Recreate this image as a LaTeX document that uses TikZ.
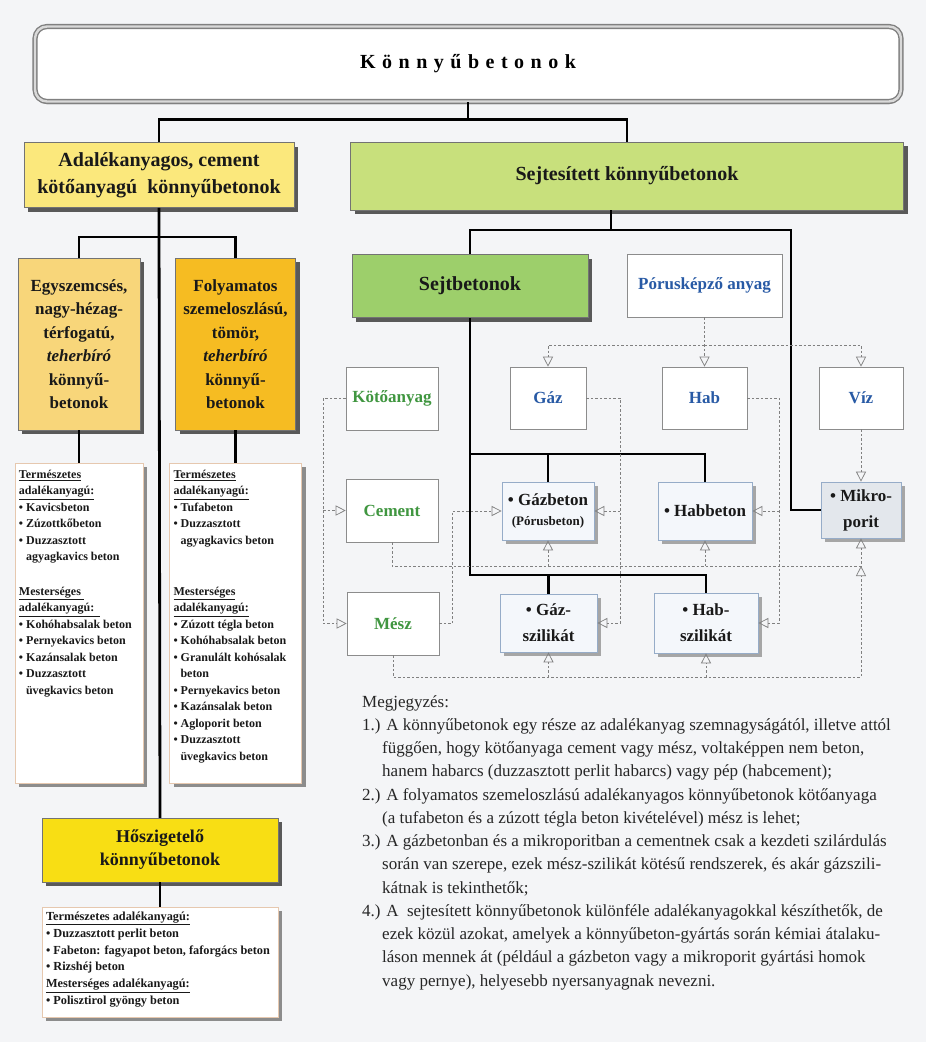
\documentclass[tikz,border=0pt]{standalone}
\usepackage{fontspec}
\setmainfont{Liberation Serif}
\usetikzlibrary{arrows.meta, positioning, shadows}
\definecolor{hatter}{RGB}{244,245,247}
\definecolor{sarga}{RGB}{251,232,124}
\definecolor{zold}{RGB}{200,224,124}
\definecolor{narancs}{RGB}{248,214,122}
\definecolor{borostyan}{RGB}{246,188,34}
\definecolor{sotetzold}{RGB}{157,207,107}
\definecolor{citrom}{RGB}{248,222,20}
\definecolor{kek}{RGB}{40,90,165}
\definecolor{fuzold}{RGB}{64,150,64}
\definecolor{acel}{RGB}{227,231,236}
\definecolor{halvany}{RGB}{244,247,251}
\definecolor{keret}{RGB}{150,172,200}
\definecolor{barack}{RGB}{230,200,175}
\newcommand{\kz}{\hspace{6.5pt}}
\newcommand{\beh}{\hspace*{20pt}}
\newcommand{\lbeh}{\hspace*{7pt}}

\begin{document}
\begin{tikzpicture}[x=1pt, y=-1pt,
			>={Triangle[open, length=10pt, width=10pt]},
			doboz/.style={draw=black!55, line width=0.5pt, align=center, inner sep=2pt, text=black!90},
			szines/.style={doboz, drop shadow={shadow xshift=4pt, shadow yshift=-4pt, fill=black!65, opacity=1}},
			nagybetu/.style={font=\bfseries\fontsize{20}{27}\selectfont},
			kozep/.style={font=\bfseries\fontsize{17}{23.5}\selectfont},
			lista/.style={draw=barack, line width=0.6pt, fill=white, inner sep=0pt, text=black!90,
				font=\bfseries\fontsize{12}{16.5}\selectfont,
				drop shadow={shadow xshift=4pt, shadow yshift=-4pt, fill=black!45, opacity=1}},
			anyag/.style={draw=black!45, line width=0.6pt, fill=white, align=center, font=\bfseries\fontsize{17}{22}\selectfont},
			beton/.style={draw=keret, line width=0.7pt, fill=halvany, align=center, text=black!90,
				font=\bfseries\fontsize{17}{26}\selectfont,
				drop shadow={shadow xshift=4pt, shadow yshift=-4pt, fill=black!35, opacity=1}},
			vonal/.style={line width=2.8pt},
			szagg/.style={draw=black!50, line width=0.7pt, dash pattern=on 2.5pt off 2pt}]
			
			% Sfondo
			\fill[hatter] (0,0) rectangle (926,1042);
			\useasboundingbox (0,0) rectangle (926,1042);
			
			% Titolo
			\node[draw=black!50, double=black!15, double distance=2.4pt, line width=1.4pt, fill=white,
				rounded corners=12pt, minimum width=866pt, minimum height=75pt, nagybetu,
				drop shadow={shadow xshift=0pt, shadow yshift=-2.5pt, fill=black!55, opacity=1}] (cim) at (468,64)
				{K\kz ö\kz n\kz n\kz y\kz ű\kz b\kz e\kz t\kz o\kz n\kz o\kz k};
			
			% --- Ramo sinistro ---
			\node[szines, fill=sarga, minimum width=270pt, minimum height=65pt, nagybetu] (adal) at (159,175)
				{Adalékanyagos, cement\\kötőanyagú\ \ könnyűbetonok};
			\node[szines, fill=narancs, minimum width=122pt, minimum height=172pt, kozep] (egy) at (79,344)
				{Egyszemcsés,\\nagy-hézag-\\térfogatú,\\\textit{teherbíró}\\könnyű-\\betonok};
			\node[szines, fill=borostyan, minimum width=120pt, minimum height=172pt, kozep] (foly) at (235.5,344)
				{Folyamatos\\szemeloszlású,\\tömör,\\\textit{teherbíró}\\könnyű-\\betonok};
			
			\node[lista, minimum width=128pt, minimum height=320pt] (lista1) at (79,623)
				{\parbox[t][306pt][t]{120pt}{\underline{Természetes}\\
					\underline{adalékanyagú:}\\
					• Kavicsbeton\\
					• Zúzottkőbeton\\
					• Duzzasztott\\
					\lbeh agyagkavics beton\\[18pt]
					\underline{Mesterséges\ }\\
					\underline{adalékanyagú:\ \ }\\
					• Kohóhabsalak beton\\
					• Pernyekavics beton\\
					• Kazánsalak beton\\
					• Duzzasztott\\
					\lbeh üvegkavics beton}};
			\node[lista, minimum width=132pt, minimum height=320pt] (lista2) at (235.5,623)
				{\parbox[t][306pt][t]{124pt}{\underline{Természetes}\\
					\underline{adalékanyagú:}\\
					• Tufabeton\\
					• Duzzasztott\\
					\lbeh agyagkavics beton\\[34.5pt]
					\underline{Mesterséges}\\
					\underline{adalékanyagú:}\\
					• Zúzott tégla beton\\
					• Kohóhabsalak beton\\
					• Granulált kohósalak\\
					\lbeh beton\\
					• Pernyekavics beton\\
					• Kazánsalak beton\\
					• Agloporit beton\\
					• Duzzasztott\\
					\lbeh üvegkavics beton}};
			
			\node[szines, fill=citrom, minimum width=236pt, minimum height=64pt, font=\bfseries\fontsize{18}{23}\selectfont] (hosz) at (160,850)
				{Hőszigetelő\\könnyűbetonok};
			\node[lista, minimum width=236pt, minimum height=110pt] (lista3) at (160,962)
				{\parbox[t][100pt][t]{228pt}{\fontsize{12.3}{16.8}\selectfont
					\underline{Természetes adalékanyagú:}\\
					• Duzzasztott perlit beton\\
					• Fabeton: fagyapot beton, faforgács beton\\
					• Rizshéj beton\\
					\underline{Mesterséges adalékanyagú:}\\
					• Polisztirol gyöngy beton}};
			
			% --- Ramo destro ---
			\node[szines, fill=zold, minimum width=553pt, minimum height=68pt, nagybetu] (sejtes) at (627,176)
				{Sejtesített könnyűbetonok};
			\node[szines, fill=sotetzold, minimum width=236pt, minimum height=63pt, nagybetu] (sbet) at (470,286)
				{Sejtbetonok};
			\node[anyag, text=kek, minimum width=155pt, minimum height=63pt] (poro) at (704.5,285.5) {Pórusképző anyag};
			
			% Materie prime
			\node[anyag, text=fuzold, minimum width=92pt, minimum height=63pt] (kot) at (392,398.5) {Kötőanyag};
			\node[anyag, text=kek, minimum width=76pt, minimum height=62pt] (gaz) at (548,398) {Gáz};
			\node[anyag, text=kek, minimum width=85pt, minimum height=62pt] (hab) at (704.5,398) {Hab};
			\node[anyag, text=kek, minimum width=84pt, minimum height=62pt] (viz) at (861,398) {Víz};
			\node[anyag, text=fuzold, minimum width=92pt, minimum height=63pt] (cem) at (392,510.5) {Cement};
			\node[anyag, text=fuzold, minimum width=92pt, minimum height=63pt] (mesz) at (393,623.5) {Mész};
			
			% Prodotti
			\node[beton, minimum width=92pt, minimum height=58pt] (gbet) at (548,511)
				{• Gázbeton\\[-6pt]{\fontsize{13}{16}\selectfont(Pórusbeton)}};
			\node[beton, minimum width=94pt, minimum height=58pt] (hbet) at (705,511) {• Habbeton};
			\node[beton, fill=acel, minimum width=80pt, minimum height=56pt] (mikro) at (861,510) {• Mikro-\\porit};
			\node[beton, minimum width=97pt, minimum height=58pt] (gszil) at (548.5,623) {• Gáz-\\szilikát};
			\node[beton, minimum width=104pt, minimum height=60pt] (hszil) at (706,623) {• Hab-\\szilikát};
			
			% --- Linee principali ---
			\draw[vonal] (cim.south) -- ++(0,17) -| (adal.north);
			\draw[vonal] (cim.south) ++(0,17) -| (sejtes.north);
			
			\coordinate (a1) at (159,237);
			\draw[vonal] (adal.south) -- (hosz.north);
			\draw[vonal] (egy.north) |- (a1) -| (foly.north);
			\draw[vonal] (egy.south) -- (lista1.north);
			\draw[vonal] (foly.south) -- (lista2.north);
			\draw[vonal] (hosz.south) -- (lista3.north);
			
			\coordinate (s1) at (611,230);
			\coordinate (kn) at (791,230);
			\draw[vonal] (s1 |- sejtes.south) -- (s1) -| (sbet.north);
			\draw[vonal] (s1) -- (kn) |- (mikro.west);
			
			\coordinate (b1) at (470,454);
			\coordinate (b2) at (470,575);
			\draw[vonal] (sbet.south) -- (b2) -| (hszil.north);
			\draw[vonal] (b1) -| (hbet.north);
			\draw[vonal] (gbet.north) -- (gbet.north |- b1);
			\draw[vonal] (gszil.north) -- (gszil.north |- b2);
			
			% --- Linee tratteggiate ---
			% Pórusképző anyag
			\coordinate (pp) at (0,345);
			\draw[szagg, ->] (poro.south) -- (hab.north);
			\draw[szagg, ->] (poro.south |- pp) -| (gaz.north);
			\draw[szagg, ->] (poro.south |- pp) -| (viz.north);
			\draw[szagg, ->] (viz.south) -- (mikro.north);
			
			% Kötőanyag
			\coordinate (kk) at (323,0);
			\draw[szagg, ->] (kot.west) -| (kk |- mesz.west) -- (mesz.west);
			\draw[szagg, ->] (kk |- cem.west) -- (cem.west);
			
			% Cement
			\coordinate (cc) at (0,566);
			\draw[szagg, ->] (cem.south) |- (mikro.south |- cc) -- (mikro.south);
			\draw[szagg, ->] (gbet.south |- cc) -- (gbet.south);
			\draw[szagg, ->] (hbet.south |- cc) -- (hbet.south);
			
			% Mész
			\coordinate (mm) at (0,677);
			\draw[szagg, ->] (mesz.south) |- (mikro.south |- mm) -- (mikro.south |- cc);
			\draw[szagg, ->] (gszil.south |- mm) -- (gszil.south);
			\draw[szagg, ->] (hszil.south |- mm) -- (hszil.south);
			\draw[szagg, ->] (mesz.east) -- ++(13,0) |- (gbet.west);
			
			% Gáz, Hab
			\coordinate (gg) at (620,0);
			\draw[szagg, ->] (gaz.east) -| (gg |- gszil.east) -- (gszil.east);
			\draw[szagg, ->] (gg |- gbet.east) -- (gbet.east);
			\coordinate (hh) at (779,0);
			\draw[szagg, ->] (hab.east) -| (hh |- hszil.east) -- (hszil.east);
			\draw[szagg, ->] (hh |- hbet.east) -- (hbet.east);
			
			% Megjegyzés
			\node[anchor=north west, align=left, inner sep=0pt, text=black!85,
				font=\fontsize{17}{23.25}\selectfont] (megj) at (362,695)
				{Megjegyzés:\\
				1.) A könnyűbetonok egy része az adalékanyag szemnagyságától, illetve attól\\
				\beh függően, hogy kötőanyaga cement vagy mész, voltaképpen nem beton,\\
				\beh hanem habarcs (duzzasztott perlit habarcs) vagy pép (habcement);\\
				2.) A folyamatos szemeloszlású adalékanyagos könnyűbetonok kötőanyaga\\
				\beh (a tufabeton és a zúzott tégla beton kivételével) mész is lehet;\\
				3.) A gázbetonban és a mikroporitban a cementnek csak a kezdeti szilárdulás\\
				\beh során van szerepe, ezek mész-szilikát kötésű rendszerek, és akár gázszili-\\
				\beh kátnak is tekinthetők;\\
				4.) A\ \ sejtesített könnyűbetonok különféle adalékanyagokkal készíthetők, de\\
				\beh ezek közül azokat, amelyek a könnyűbeton-gyártás során kémiai átalaku-\\
				\beh láson mennek át (például a gázbeton vagy a mikroporit gyártási homok\\
				\beh vagy pernye), helyesebb nyersanyagnak nevezni.};
		\end{tikzpicture}
\end{document}
